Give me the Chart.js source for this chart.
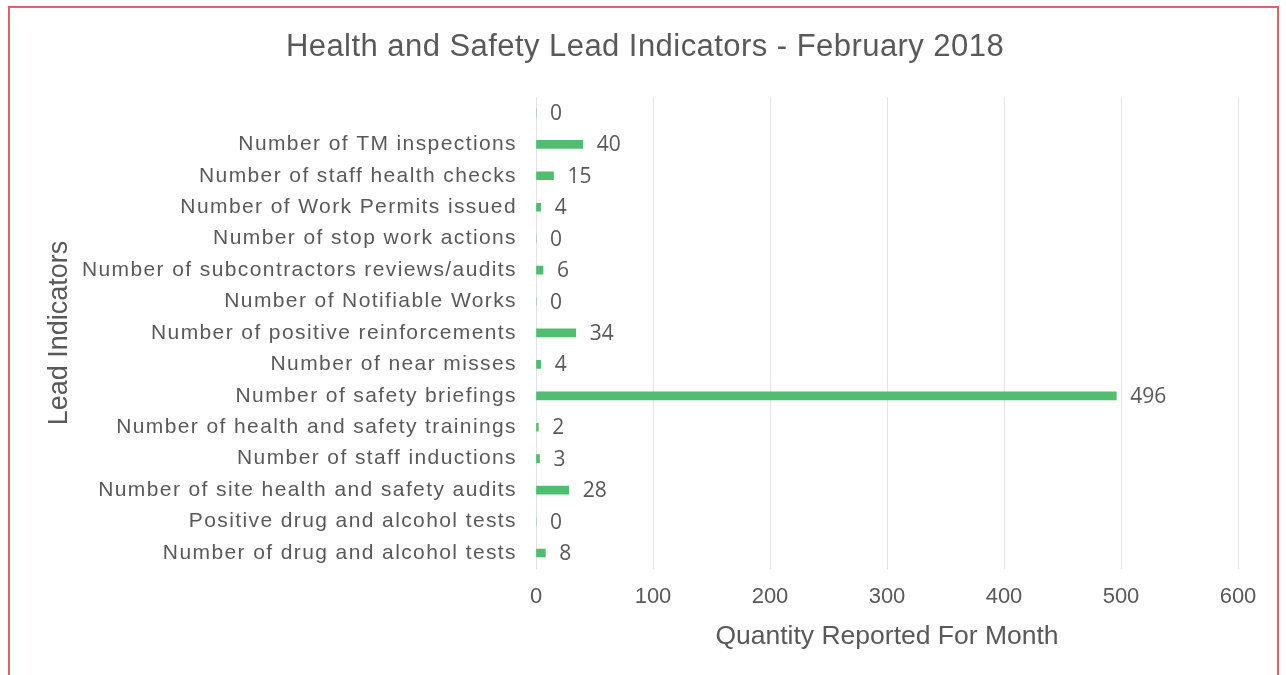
<!DOCTYPE html>
<html>
<head>
<meta charset="utf-8">
<script src="https://cdn.jsdelivr.net/npm/chart.js@4/dist/chart.umd.min.js"></script>
<style>
  html, body { margin: 0; padding: 0; background: #ffffff; overflow: hidden; }
  #wrap { position: relative; width: 1286px; height: 675px; }
  #frame { position: absolute; left: 8px; top: 6px; width: 1271px; height: 700px; border: 2px solid #e0606e; box-sizing: border-box; pointer-events: none; }
  canvas { position: absolute; left: 0; top: 0; }
</style>
</head>
<body>
<div id="wrap">
  <canvas id="c" width="1286" height="675"></canvas>
  <div id="frame"></div>
</div>
<script>
const chartTitle = 'Health and Safety Lead Indicators - February 2018';
const categories = [
  '',
  'Number of TM inspections',
  'Number of staff health checks',
  'Number of Work Permits issued',
  'Number of stop work actions',
  'Number of subcontractors reviews/audits',
  'Number of Notifiable Works',
  'Number of positive reinforcements',
  'Number of near misses',
  'Number of safety briefings',
  'Number of health and safety trainings',
  'Number of staff inductions',
  'Number of site health and safety audits',
  'Positive drug and alcohol tests',
  'Number of drug and alcohol tests'
];
const values = [0, 40, 15, 4, 0, 6, 0, 34, 4, 496, 2, 3, 28, 0, 8];
const xMin = 0, xMax = 600, xStep = 100;
const xTitle = 'Quantity Reported For Month';
const yTitle = 'Lead Indicators';

const TEXT = '#595959';

const spacingPatch = {
  id: 'spacingPatch',
  afterLayout(chart) {
    if (chart._spacingPatched) return;
    chart._spacingPatched = true;
    const ctx = chart.ctx;
    const ys = chart.scales.y;
    const origY = ys.drawLabels.bind(ys);
    ys.drawLabels = function (ca) { ctx.save(); ctx.letterSpacing = '1.4px'; origY(ca); ctx.restore(); };
    const tb = chart.titleBlock;
    if (tb) {
      const origT = tb.draw.bind(tb);
      tb.draw = function () { ctx.save(); ctx.translate(26, 0); ctx.letterSpacing = '0.45px'; origT(); ctx.restore(); };
    }
  }
};

const valueLabels = {
  id: 'valueLabels',
  afterDatasetsDraw(chart) {
    const ctx = chart.ctx;
    const meta = chart.getDatasetMeta(0);
    ctx.save();
    ctx.font = '21px "Open Sans"';
    ctx.fillStyle = TEXT;
    ctx.textAlign = 'left';
    ctx.textBaseline = 'middle';
    meta.data.forEach((el, i) => {
      ctx.fillText(String(values[i]), el.x + 14, el.y + 1);
    });
    ctx.restore();
  }
};

new Chart(document.getElementById('c'), {
  type: 'bar',
  data: {
    labels: categories,
    datasets: [{
      data: values,
      backgroundColor: '#50be70',
      borderWidth: 0,
      barThickness: 8
    }]
  },
  options: {
    indexAxis: 'y',
    responsive: false,
    animation: false,
    devicePixelRatio: 1,
    layout: { padding: { left: 0, right: 48, top: 0, bottom: 0 } },
    plugins: {
      legend: { display: false },
      tooltip: { enabled: false },
      title: {
        display: true,
        text: chartTitle,
        color: TEXT,
        font: { family: '"Liberation Sans", Arial, sans-serif', size: 31, weight: 'normal' },
        padding: { top: 29, bottom: 31 }
      }
    },
    scales: {
      x: {
        min: xMin,
        max: xMax,
        ticks: {
          stepSize: xStep,
          color: TEXT,
          padding: 15,
          font: { family: '"Liberation Sans", Arial, sans-serif', size: 22 }
        },
        grid: { color: '#e3e3e3', lineWidth: 1, drawTicks: false },
        border: { display: false },
        title: {
          display: true,
          text: xTitle,
          color: TEXT,
          font: { family: '"Liberation Sans", Arial, sans-serif', size: 26.5 },
          padding: { top: 0, bottom: 22 }
        },
        afterFit(scale) { scale.height = 106.3; }
      },
      y: {
        ticks: {
          color: TEXT,
          padding: 19,
          autoSkip: false,
          font: { family: '"Liberation Sans", Arial, sans-serif', size: 21 }
        },
        grid: { display: false, drawTicks: false },
        border: { display: false },
        title: {
          display: true,
          text: yTitle,
          color: TEXT,
          font: { family: '"Liberation Sans", Arial, sans-serif', size: 27 },
          padding: { top: 43, bottom: 0 }
        },
        afterFit(scale) { scale.width = 536; }
      }
    }
  },
  plugins: [spacingPatch, valueLabels]
});
</script>
</body>
</html>
